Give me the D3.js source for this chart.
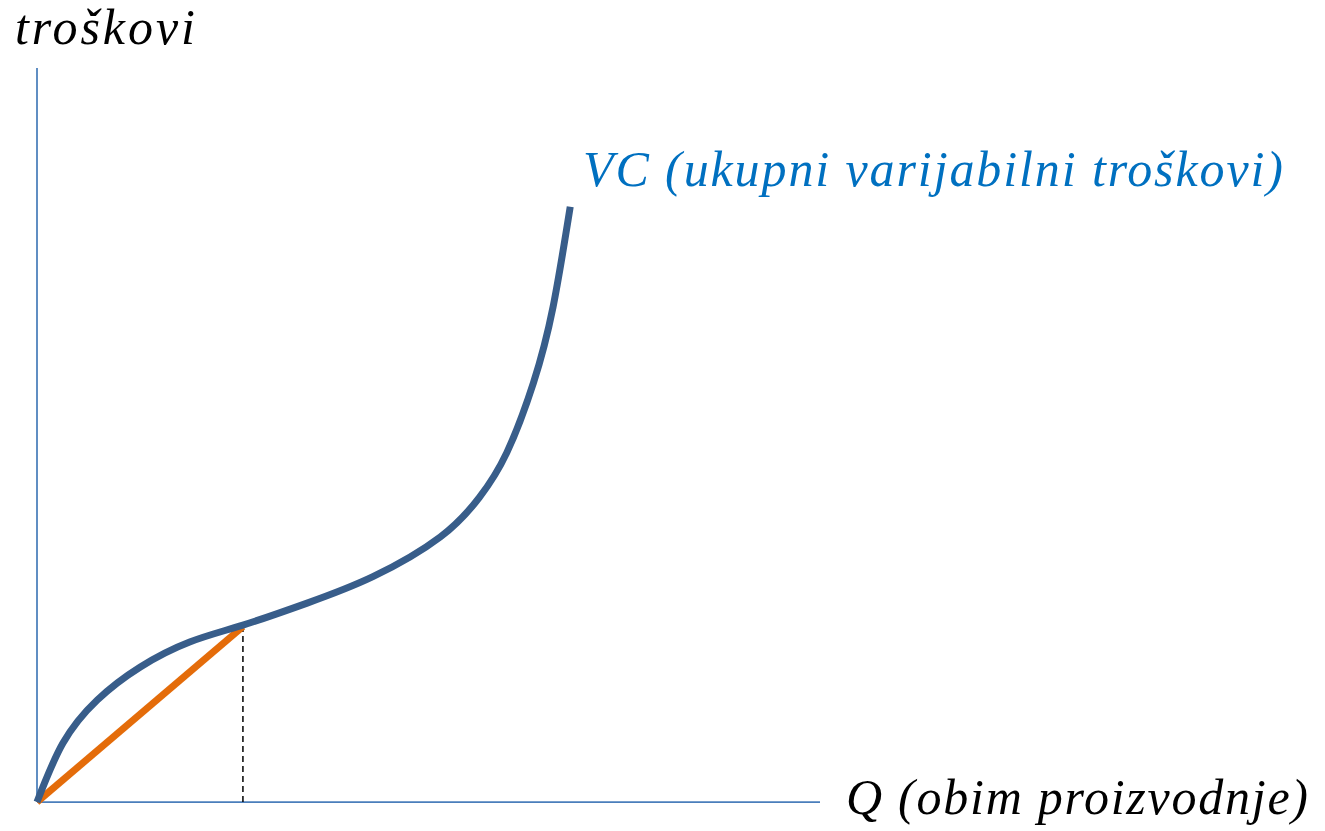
<!DOCTYPE html>
<html>
<head>
<meta charset="utf-8">
<script src="https://cdn.jsdelivr.net/npm/d3@7"></script>
<style>
  body { margin: 0; background: #fff; }
  svg text { font-family: 'Liberation Serif', serif; font-style: italic; }
</style>
</head>
<body>
<svg id="chart" width="1325" height="831"></svg>
<script>
// VC curve (Q, cost), both on a 0..100 scale
const vcQ = [0, 3.3, 7.7, 13.2, 19.5, 26.3, 34.5, 42.9, 51.5, 56.5, 60.0, 63.4, 65.9, 68.1];
const vcCost = [0, 8.0, 13.9, 18.4, 21.8, 24.1, 27.1, 30.7, 36.1, 41.5, 47.6, 57.1, 67.4, 81.1];
// tangent ray from origin touches VC here
const tangentQ = [0, 26.3];
const tangentCost = [0, 23.9];

const labels = {
  y: 'troškovi',
  x: 'Q (obim proizvodnje)',
  vc: 'VC (ukupni varijabilni troškovi)'
};

const svg = d3.select('#chart');
const x = d3.scaleLinear().domain([0, 100]).range([37, 820]);
const y = d3.scaleLinear().domain([0, 100]).range([802, 68]);

const axisColor = '#4a7ebb';

// axes (plain lines, no ticks)
svg.append('line')
  .attr('x1', x(0)).attr('x2', x(0))
  .attr('y1', y(0)).attr('y2', y(100))
  .attr('stroke', axisColor).attr('stroke-width', 1.75);
svg.append('line')
  .attr('x1', x(0)).attr('x2', x(100))
  .attr('y1', y(0)).attr('y2', y(0))
  .attr('stroke', axisColor).attr('stroke-width', 1.75);

const vc = vcQ.map((q, i) => ({ q, c: vcCost[i] }));
const tangent = tangentQ.map((q, i) => ({ q, c: tangentCost[i] }));

// dashed drop line
svg.append('line')
  .attr('x1', x(tangentQ[1])).attr('x2', x(tangentQ[1]))
  .attr('y1', y(0)).attr('y2', y(tangentCost[1]))
  .attr('stroke', '#000').attr('stroke-width', 1.5)
  .attr('stroke-dasharray', '6,4');

const line = d3.line()
  .x(d => x(d.q))
  .y(d => y(d.c));

svg.append('path')
  .datum(tangent)
  .attr('fill', 'none')
  .attr('stroke', '#e46c0a')
  .attr('stroke-width', 7)
  .attr('d', line);

svg.append('path')
  .datum(vc)
  .attr('fill', 'none')
  .attr('stroke', '#385d8a')
  .attr('stroke-width', 7)
  .attr('d', line.curve(d3.curveNatural));

// labels
svg.append('text')
  .attr('x', 15).attr('y', 44)
  .attr('font-size', 50)
  .attr('fill', '#000')
  .attr('textLength', 180).attr('lengthAdjust', 'spacing')
  .text(labels.y);

svg.append('text')
  .attr('x', 583).attr('y', 186)
  .attr('font-size', 50)
  .attr('fill', '#0070c0')
  .attr('textLength', 700).attr('lengthAdjust', 'spacing')
  .text(labels.vc);

svg.append('text')
  .attr('x', 846).attr('y', 814)
  .attr('font-size', 50)
  .attr('fill', '#000')
  .attr('textLength', 462).attr('lengthAdjust', 'spacing')
  .text(labels.x);
</script>
</body>
</html>
